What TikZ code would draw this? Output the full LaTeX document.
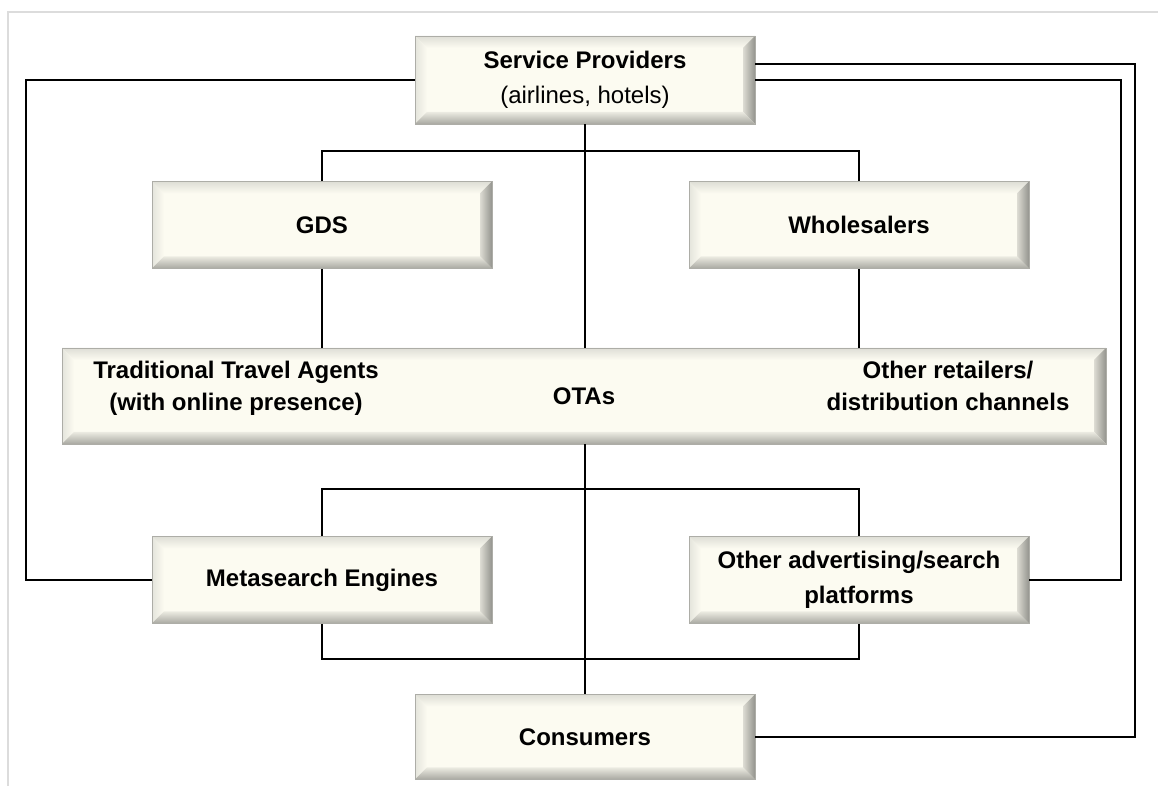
\documentclass[tikz,border=0pt]{standalone}
\usepackage{fontspec}
\setmainfont{Liberation Sans}
\usepackage{tikz}
\usetikzlibrary{positioning}
\usetikzlibrary{calc}

\definecolor{boxface}{HTML}{FCFBF1}
\definecolor{bevtop}{HTML}{DEDED6}
\definecolor{bevleft}{HTML}{E4E4DC}
\definecolor{bevright}{HTML}{94948E}
\definecolor{bevbottom}{HTML}{A8A8A1}
\definecolor{boxrim}{HTML}{ADADA7}
\definecolor{framegray}{HTML}{DCDCDC}

\tikzset{
  bevelbox/.style={draw=boxrim, fill=boxface, inner sep=0pt, align=center,
    minimum width=170pt, minimum height=43.5pt,
    font=\bfseries\fontsize{12}{16}\selectfont,
    path picture={
      \coordinate (pnw) at (path picture bounding box.north west);
      \coordinate (pne) at (path picture bounding box.north east);
      \coordinate (psw) at (path picture bounding box.south west);
      \coordinate (pse) at (path picture bounding box.south east);
      \shade[top color=bevtop, bottom color=boxface]
        (pnw) -- (pne) -- ($(pne)+(-6pt,-6pt)$) -- ($(pnw)+(6pt,-6pt)$) -- cycle;
      \shade[left color=bevleft, right color=boxface]
        (pnw) -- ($(pnw)+(6pt,-6pt)$) -- ($(psw)+(6pt,6pt)$) -- (psw) -- cycle;
      \shade[left color=boxface!70!bevright, right color=bevright]
        (pne) -- ($(pne)+(-6pt,-6pt)$) -- ($(pse)+(-6pt,6pt)$) -- (pse) -- cycle;
      \shade[top color=boxface!80!bevbottom, bottom color=bevbottom]
        (psw) -- ($(psw)+(6pt,6pt)$) -- ($(pse)+(-6pt,6pt)$) -- (pse) -- cycle;
    }},
  boxlabel/.style={font=\bfseries\fontsize{12}{16}\selectfont, align=center},
  link/.style={draw=black, line width=1pt}
}

\begin{document}
\begin{tikzpicture}[x=1pt, y=1pt]

\useasboundingbox (0,0) rectangle (579,393);
\draw[framegray, line width=1pt] (4,0) -- (4,387) -- (579,387);

\node[bevelbox, minimum height=44pt] (sp) at (292.5,353) {Service Providers\\[1.5pt]\mdseries (airlines, hotels)};
\node[bevelbox] (gds) at (161,280.5) {GDS};
\node[bevelbox] (wh) at (429.5,280.5) {Wholesalers};
\node[bevelbox, minimum width=522pt, minimum height=48pt] (ota) at (292,195) {OTAs};
\node[boxlabel] (tta) at (118,199) {Traditional Travel Agents\\(with online presence)};
\node[boxlabel] (orc) at (474,200) {Other retailers/\\distribution channels};
\node[bevelbox] (meta) at (161,103) {Metasearch Engines};
\node[bevelbox] (oth) at (429.5,103) {Other advertising/search\\[1.5pt]platforms};
\node[bevelbox, minimum height=42.5pt] (con) at (292.5,24.5) {Consumers};

\draw[link] (sp.south) -- (sp.south|-ota.north);
\draw[link] (gds.north) -- ++(0,15) -| (wh.north);
\draw[link] (gds.south) -- (gds.south|-ota.north);
\draw[link] (wh.south) -- (wh.south|-ota.north);

\draw[link] (con.north|-ota.south) -- (con.north);
\draw[link] (meta.north) -- ++(0,23.5) -| (oth.north);
\draw[link] (meta.south) -- ++(0,-17.5) -| (oth.south);

\draw[link] (sp.west) -| ([xshift=-63pt]meta.west) -- (meta.west);
\draw[link] (sp.east) -| ([xshift=46pt]oth.east) -- (oth.east);
\draw[link] ([yshift=8pt]sp.east) -| ([xshift=190pt]con.east) -- (con.east);

\end{tikzpicture}
\end{document}
